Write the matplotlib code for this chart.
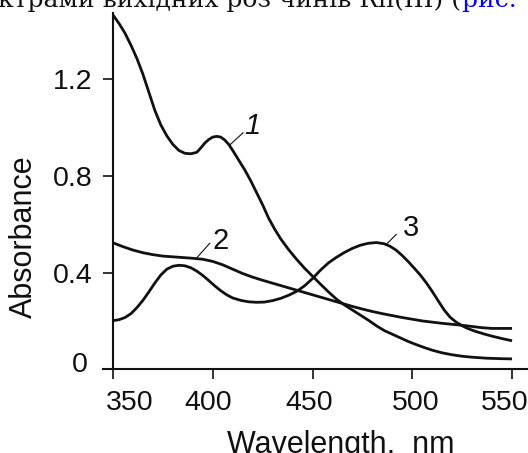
import matplotlib
matplotlib.use('Agg')
import matplotlib.pyplot as plt
from matplotlib.transforms import ScaledTranslation

plt.rcParams['font.family'] = ['Liberation Sans', 'DejaVu Sans']

# spectra
wl1 = [350, 353, 356, 359, 362, 365, 368, 371, 374, 377, 380, 383, 386, 389,
       392, 394, 396, 398, 400, 402, 404, 406, 408, 410, 413, 416, 419, 422,
       425, 428, 431, 434, 438, 442, 446, 450, 454, 458, 462, 466, 470, 474,
       478, 482, 486, 490, 494, 498, 502, 506, 510, 515, 520, 525, 530, 537,
       544, 550]
abs1 = [1.465, 1.43, 1.39, 1.34, 1.285, 1.22, 1.145, 1.07, 1.01, 0.965, 0.93,
        0.905, 0.893, 0.891, 0.897, 0.915, 0.935, 0.95, 0.96, 0.963, 0.96,
        0.948, 0.93, 0.905, 0.865, 0.825, 0.78, 0.73, 0.68, 0.625, 0.58,
        0.54, 0.495, 0.455, 0.418, 0.385, 0.352, 0.32, 0.29, 0.266, 0.245,
        0.224, 0.203, 0.18, 0.16, 0.145, 0.13, 0.115, 0.102, 0.09, 0.079,
        0.068, 0.06, 0.054, 0.05, 0.046, 0.044, 0.043]

wl2 = [350, 355, 360, 365, 370, 375, 380, 385, 390, 395, 400, 405, 410, 415,
       420, 425, 430, 435, 440, 445, 450, 455, 460, 465, 470, 475, 480, 485,
       490, 495, 500, 505, 510, 515, 520, 525, 530, 535, 540, 545, 550]
abs2 = [0.523, 0.507, 0.493, 0.482, 0.474, 0.468, 0.465, 0.462, 0.459, 0.455,
        0.446, 0.432, 0.414, 0.396, 0.381, 0.368, 0.356, 0.344, 0.332, 0.32,
        0.308, 0.296, 0.284, 0.272, 0.26, 0.249, 0.239, 0.23, 0.222, 0.214,
        0.207, 0.2, 0.195, 0.19, 0.186, 0.182, 0.177, 0.172, 0.169, 0.169,
        0.169]

wl3 = [350, 353, 356, 359, 362, 365, 368, 371, 374, 377, 380, 383, 386, 389,
       392, 395, 398, 401, 404, 407, 410, 414, 418, 422, 426, 430, 434, 438,
       442, 446, 450, 454, 458, 462, 466, 470, 474, 478, 482, 486, 489, 492,
       495, 498, 501, 504, 507, 510, 513, 516, 519, 522, 525, 528, 532, 536,
       540, 545, 550]
abs3 = [0.201, 0.205, 0.214, 0.23, 0.255, 0.285, 0.32, 0.357, 0.39, 0.414,
        0.426, 0.43, 0.428, 0.42, 0.406, 0.388, 0.367, 0.345, 0.325, 0.308,
        0.295, 0.285, 0.279, 0.277, 0.278, 0.284, 0.293, 0.306, 0.322, 0.345,
        0.375, 0.41, 0.44, 0.463, 0.483, 0.5, 0.513, 0.521, 0.524, 0.519,
        0.508, 0.492, 0.47, 0.445, 0.418, 0.39, 0.358, 0.322, 0.283, 0.245,
        0.215, 0.195, 0.18, 0.168, 0.156, 0.146, 0.137, 0.127, 0.118]

curve_names = ['1', '2', '3']
xticks = [350, 400, 450, 500, 550]
yticks = [0, 0.4, 0.8, 1.2]
ytick_labels = ['0', '0.4', '0.8', '1.2']

# label text position and leader line ends
name_xy = [(419.8, 1.007), (403.9, 0.531), (499.6, 0.583)]
leader_from = [(415.2, 0.978), (398.5, 0.521), (492.0, 0.558)]
leader_to = [(408.5, 0.927), (391.8, 0.459), (486.7, 0.514)]

ink = '#111111'
serif = ['DejaVu Serif', 'Liberation Serif']

fig = plt.figure(figsize=(5.28, 4.53), dpi=100)
ax = fig.add_axes([103/528., (453-369.3)/453., 425/528., (369.3-13)/453.])

for wl, a in [(wl1, abs1), (wl2, abs2), (wl3, abs3)]:
    ax.plot(wl, a, color=ink, lw=2.0, solid_joinstyle='round',
            solid_capstyle='butt', clip_on=False)

for i, name in enumerate(curve_names):
    style = 'italic' if name == '1' else 'normal'
    ax.text(name_xy[i][0], name_xy[i][1], name, fontsize=21, style=style,
            ha='center', va='center', color=ink)
    ax.plot([leader_from[i][0], leader_to[i][0]],
            [leader_from[i][1], leader_to[i][1]], color=ink, lw=0.8)

ax.set_xlim(345, 558)
ax.set_ylim(0, 1.473)

ax.spines['top'].set_visible(False)
ax.spines['right'].set_visible(False)
ax.spines['left'].set_position(('data', 350))
for side in ['left', 'bottom']:
    ax.spines[side].set_linewidth(1.5)
    ax.spines[side].set_color(ink)

ax.set_xticks(xticks)
ax.set_yticks(yticks)
ax.set_yticklabels(ytick_labels)
ax.tick_params(axis='both', direction='out', length=7, width=1.2,
               colors=ink, labelsize=20.5, pad=8)

fig.canvas.draw()

# hand placed tick labels in the original
xshift_px = [17, -5, -3, 3.5, -7]
for lab, dx in zip(ax.get_xticklabels(), xshift_px):
    lab.set_transform(lab.get_transform() +
                      ScaledTranslation(dx/100., 0, fig.dpi_scale_trans))
ylabs = ax.get_yticklabels()
ylabs[0].set_transform(ylabs[0].get_transform() +
                       ScaledTranslation(-4/100., 7/100., fig.dpi_scale_trans))

fig.text(24/528., 1 - 236.5/453., 'Absorbance', rotation=90, fontsize=22,
         ha='center', va='center', color=ink)
fig.text(341/528., 1 - 453.5/453., 'Wavelength,  nm', fontsize=22,
         ha='center', va='baseline', color=ink)

# cut-off line of the page text above the figure
head = fig.text(461/528., 1 - 7/453., 'ктрами вихідних роз чинів Rh(III) (',
                fontsize=18, family=serif, ha='right', va='baseline',
                color=ink)
plt.annotate('рис. 1', xy=(1, 0), xycoords=head, xytext=(1, 0),
             textcoords='offset points', fontsize=18, family=serif,
             color='#0000ee', ha='left', va='bottom', annotation_clip=False)

fig.savefig('out.png', dpi=100)
